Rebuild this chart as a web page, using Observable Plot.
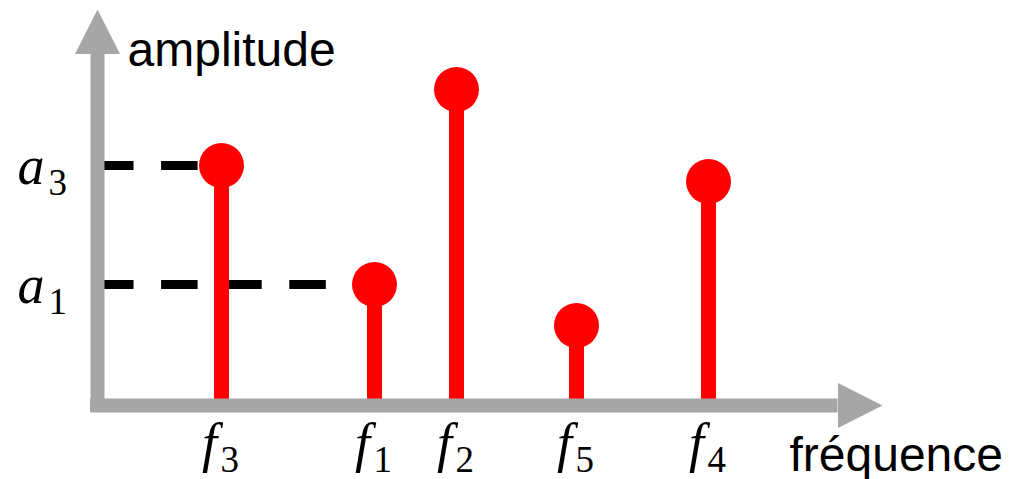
<!DOCTYPE html>
<html><head><meta charset="utf-8">
<script src="https://cdn.jsdelivr.net/npm/d3@7"></script>
<script src="https://cdn.jsdelivr.net/npm/@observablehq/plot@0.6"></script>
<style>html,body{margin:0;padding:0;background:#fff}svg{display:block}</style>
</head><body><div id="chart"></div>
<script>
// ---- data ----
const freqNames = ["f", "f", "f", "f", "f"];
const freqSubs  = ["3", "1", "2", "5", "4"];
const freqs     = [1.24, 2.77, 3.59, 4.79, 6.11];   // position on the frequency axis
const amps      = [2.40, 1.21, 3.16, 0.80, 2.24];   // amplitude
const ampMarked = ["3", "1"];                        // components whose amplitude is marked a_k
const ampName   = "a";
const yTitle    = "amplitude";
const xTitle    = "fréquence";

// ---- layout ----
const W = 1019, H = 479, ML = 97, MR = 137, MT = 9, MB = 74;
const xMax = 7.85, yMax = 3.96;
const pxX = (W - ML - MR) / xMax, pxY = (H - MT - MB) / yMax;
const red = "#ff0000", gray = "#a6a6a6";
const axisW = 14, headLen = 44.5, headHalf = 22.5;

const comps = freqs.map((f, i) => ({f, a: amps[i], name: freqNames[i], sub: freqSubs[i]}));
const marked = comps.filter(d => ampMarked.includes(d.sub));

const upHead = {draw(ctx, size) {
  const s = Math.sqrt(size / Math.PI), L = s * headLen / headHalf;
  ctx.moveTo(0, 0); ctx.lineTo(-s, L); ctx.lineTo(s, L); ctx.closePath();
}};
const rightHead = {draw(ctx, size) {
  const s = Math.sqrt(size / Math.PI), L = s * headLen / headHalf;
  ctx.moveTo(0, 0); ctx.lineTo(-L, -s); ctx.lineTo(-L, s); ctx.closePath();
}};

const serif = "'Liberation Serif', 'Times New Roman', serif";
const sans = "'Liberation Sans', Arial, sans-serif";

const chart = Plot.plot({
  width: W, height: H,
  marginLeft: ML, marginRight: MR, marginTop: MT, marginBottom: MB,
  x: {domain: [0, xMax], axis: null},
  y: {domain: [0, yMax], axis: null},
  style: {background: "#fff", overflow: "visible"},
  marks: [
    // dashed amplitude markers
    Plot.ruleY(marked, {y: "a", x1: 0, x2: "f", stroke: "#000", strokeWidth: 9, strokeDasharray: "36.5,27.6"}),
    // stems
    Plot.ruleX(comps, {x: "f", y1: 0, y2: "a", stroke: red, strokeWidth: 15}),
    Plot.dot(comps, {x: "f", y: "a", r: 22.5, fill: red, stroke: "none"}),
    // axes
    Plot.ruleX([0], {x: d => d, y1: -axisW / 2 / pxY, y2: yMax - headLen / pxY, stroke: gray, strokeWidth: axisW}),
    Plot.ruleY([0], {y: d => d, x1: -axisW / 2 / pxX, x2: xMax - headLen / pxX, stroke: gray, strokeWidth: axisW}),
    Plot.dot([0], {x: 0, y: yMax, symbol: upHead, r: headHalf, fill: gray, stroke: "none"}),
    Plot.dot([0], {x: xMax, y: 0, symbol: rightHead, r: headHalf, fill: gray, stroke: "none"}),
    // frequency labels
    Plot.text(comps, {x: "f", y: 0, text: "name", dx: -12, dy: 55, textAnchor: "middle", lineAnchor: "bottom",
      fontFamily: serif, fontStyle: "italic", fontSize: 54, fill: "#000"}),
    Plot.text(comps, {x: "f", y: 0, text: "sub", dx: -1, dy: 66, textAnchor: "start", lineAnchor: "bottom",
      fontFamily: serif, fontSize: 37, fill: "#000"}),
    // amplitude labels
    Plot.text(marked, {x: 0, y: "a", text: () => ampName, dx: -66.5, dy: 18, textAnchor: "middle", lineAnchor: "bottom",
      fontFamily: serif, fontStyle: "italic", fontSize: 54, fill: "#000"}),
    Plot.text(marked, {x: 0, y: "a", text: "sub", dx: -49, dy: 29, textAnchor: "start", lineAnchor: "bottom",
      fontFamily: serif, fontSize: 37, fill: "#000"}),
    // axis titles
    Plot.text([yTitle], {x: 0, y: yMax, text: d => d, dx: 30, dy: 56, textAnchor: "start", lineAnchor: "bottom",
      fontFamily: sans, fontSize: 48, fill: "#000"}),
    Plot.text([xTitle], {x: xMax, y: 0, text: d => d, dx: -93, dy: 65, textAnchor: "start", lineAnchor: "bottom",
      fontFamily: sans, fontSize: 48, fill: "#000"})
  ]
});
document.getElementById("chart").appendChild(chart);
</script>
</body></html>
